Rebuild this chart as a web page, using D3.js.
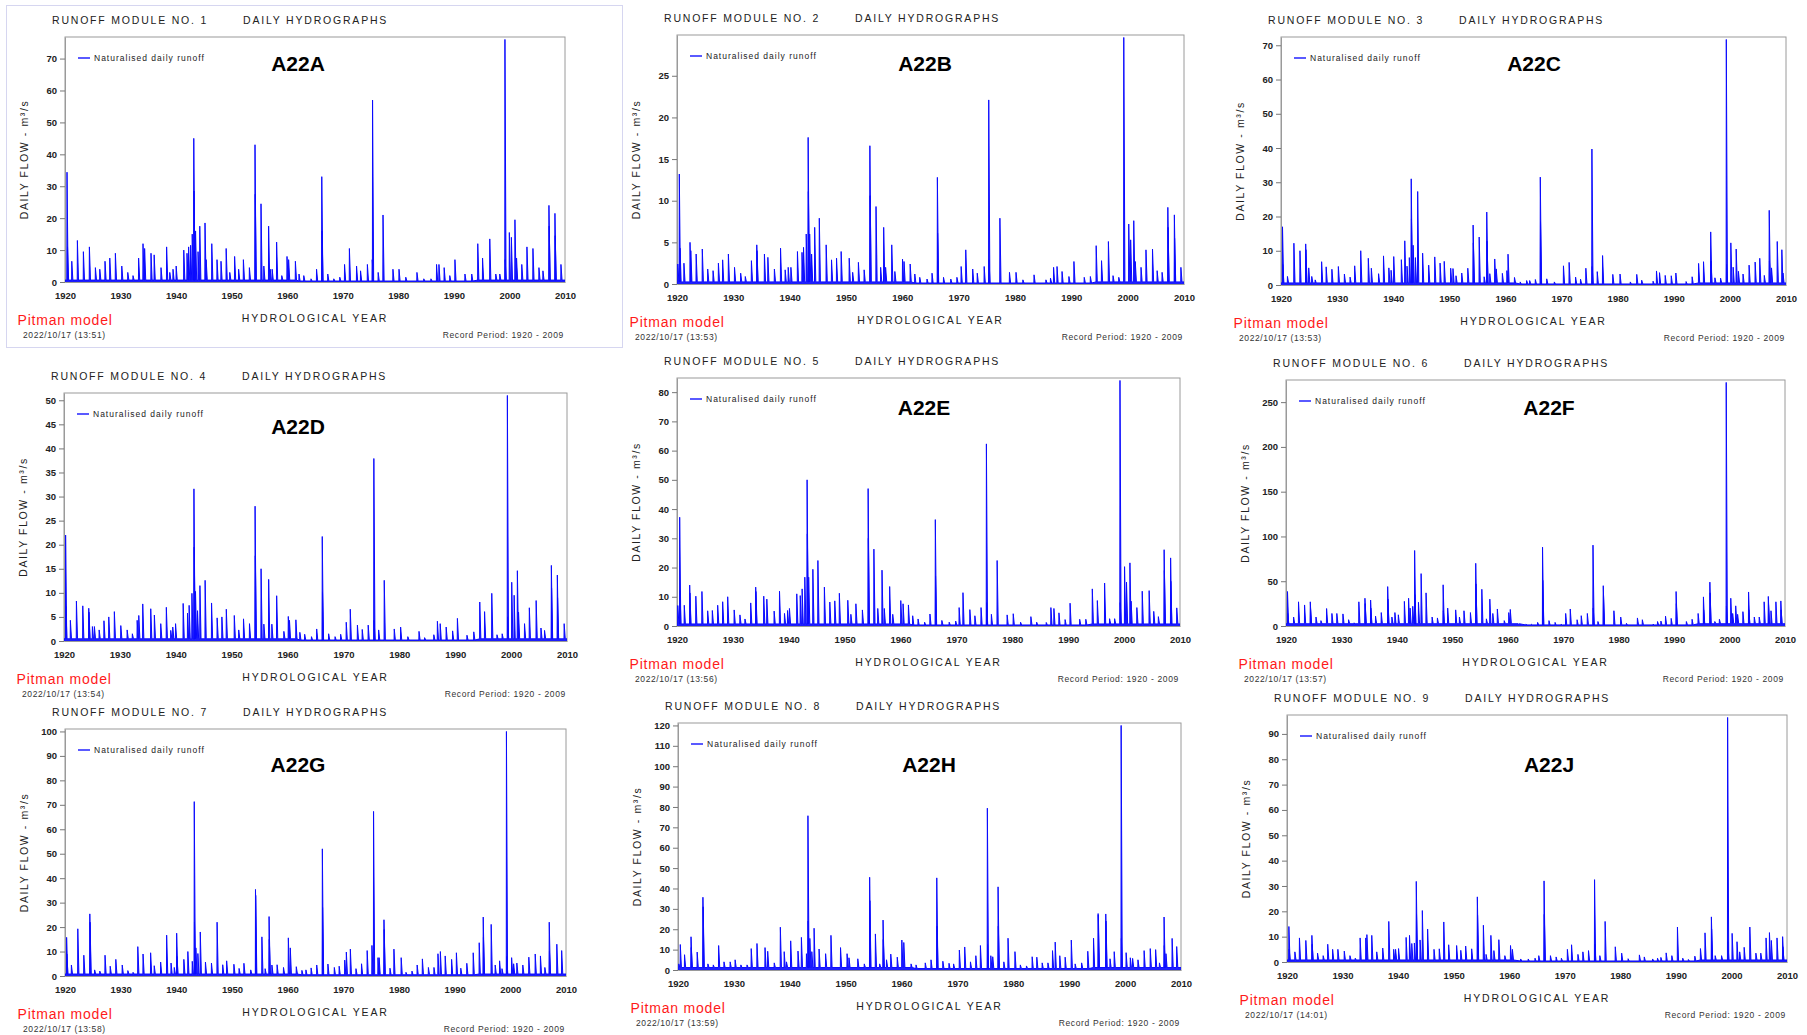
<!DOCTYPE html>
<html>
<head>
<meta charset="utf-8">
<script src="https://cdn.jsdelivr.net/npm/d3@7"></script>
<style>
  body { margin: 0; background: #fff; }
  svg { display: block; font-family: "Liberation Sans", Arial, sans-serif; }
</style>
</head>
<body>
<svg id="chart" width="1807" height="1035"></svg>
<script>
// ---- Data -------------------------------------------------------------
const stations = ["A22A", "A22B", "A22C", "A22D", "A22E", "A22F", "A22G", "A22H", "A22J"];
const moduleNumbers = [1, 2, 3, 4, 5, 6, 7, 8, 9];
const runDate = "2022/10/17";
const runTimes = ["13:51", "13:53", "13:53", "13:54", "13:56", "13:57", "13:58", "13:59", "14:01"];
const recordPeriod = [1920, 2009];
const yearTicks = [1920, 1930, 1940, 1950, 1960, 1970, 1980, 1990, 2000, 2010];

const flowTicksA22A = [0, 10, 20, 30, 40, 50, 60, 70];
const flowTicksA22B = [0, 5, 10, 15, 20, 25];
const flowTicksA22C = [0, 10, 20, 30, 40, 50, 60, 70];
const flowTicksA22D = [0, 5, 10, 15, 20, 25, 30, 35, 40, 45, 50];
const flowTicksA22E = [0, 10, 20, 30, 40, 50, 60, 70, 80];
const flowTicksA22F = [0, 50, 100, 150, 200, 250];
const flowTicksA22G = [0, 10, 20, 30, 40, 50, 60, 70, 80, 90, 100];
const flowTicksA22H = [0, 10, 20, 30, 40, 50, 60, 70, 80, 90, 100, 110, 120];
const flowTicksA22J = [0, 10, 20, 30, 40, 50, 60, 70, 80, 90];

// Flood events: [hydrological year, daily flow m3/s]
const runoffA22A = [[1920.36,34.4],[1920.45,11],[1921.22,6.5],[1922.23,13],[1923.31,9.5],[1924.39,11],[1925.47,4.5],[1926.26,4],[1927.2,6.5],[1928.06,7.5],[1929.07,9],[1930.22,5],[1931.3,3],[1932.24,2],[1933.25,7.5],[1934.04,12],[1934.33,10.5],[1935.48,9],[1936.05,8.5],[1937.28,4.5],[1938.29,11],[1938.86,3],[1939.44,4],[1940.01,5],[1941.38,10],[1941.96,9],[1942.25,11],[1942.61,11.5],[1942.9,15],[1943.18,45],[1943.22,28.5],[1943.5,16],[1943.95,9.5],[1944.26,17.5],[1945.2,18.5],[1945.41,7],[1946.42,12],[1947.36,7],[1948.08,6.5],[1949.01,10.5],[1949.66,3],[1950.53,8],[1951.25,4],[1952.11,7],[1953.19,4.5],[1954.2,43],[1954.24,27.5],[1955.28,24.5],[1955.79,5],[1956.65,17.5],[1956.94,4],[1957.29,4],[1958.09,12.5],[1959.02,2],[1959.96,8],[1960.25,7],[1961.47,6.5],[1962.12,2.5],[1962.98,2],[1964.28,1],[1965.28,4],[1966.22,33],[1966.26,16],[1967.3,2.5],[1968.38,1],[1969.46,1.5],[1970.32,5.5],[1971.19,10.5],[1972.48,5],[1973.2,3.5],[1974.43,5.5],[1975.3,7],[1975.36,57],[1976.37,3],[1977.24,21],[1979.03,4],[1980.12,4],[1981.34,1.5],[1983.35,3],[1984.58,1],[1985.87,1],[1986.88,5.5],[1987.31,5.5],[1988.25,4.5],[1989.26,2],[1990.19,7],[1991.99,2.5],[1993.21,2.5],[1994.3,12],[1995.16,7.5],[1996.46,13.5],[1997.54,2.5],[1998.26,2.5],[1999.19,76],[1999.23,7],[1999.98,15.5],[2000.35,14],[2000.99,19.5],[2001.28,7.5],[2002.22,5.5],[2003.15,11],[2004.23,10.5],[2005.31,4.5],[2006.03,3.5],[2007.11,24],[2007.15,17.5],[2008.19,21.5],[2008.23,14.5],[2009.27,5.5]];
const runoffA22B = [[1920.14,2.4],[1920.41,13.2],[1920.54,4.3],[1921.23,2.5],[1922.31,5],[1922.45,4],[1923.4,3.6],[1924.49,4.2],[1925.45,1.8],[1926.4,1.6],[1927.35,2.5],[1928.1,2.9],[1929.12,3.6],[1930.21,2],[1931.3,1.3],[1932.12,0.9],[1933.21,2.8],[1934.16,4.7],[1934.2,4],[1935.52,3.6],[1936.13,3.2],[1937.29,1.8],[1938.38,4.3],[1939.2,1.7],[1939.74,2],[1940.22,2],[1941.38,3.9],[1942.19,3.8],[1942.46,4.4],[1942.94,6],[1943.28,17.6],[1943.32,11.1],[1943.55,6],[1943.89,3.6],[1944.44,6.8],[1945.26,7.9],[1946.48,4.7],[1947.43,2.9],[1948.32,3.1],[1949.14,3.9],[1950.57,3.1],[1951.18,1.4],[1952.2,2.6],[1953.22,1.7],[1954.24,16.6],[1954.28,10.6],[1955.33,9.3],[1956.15,2],[1956.69,6.8],[1957.03,2],[1958.12,4.7],[1958.67,1.5],[1960.03,3],[1960.3,2.7],[1961.39,2.4],[1962.21,1.2],[1963.09,0.8],[1964.38,0.6],[1965.27,1.3],[1966.22,12.8],[1966.26,6.1],[1967.31,0.8],[1968.6,0.6],[1969.69,0.8],[1970.44,2.1],[1971.26,4.1],[1972.49,1.8],[1973.3,1.3],[1974.53,2.1],[1975.34,22.1],[1975.38,2.9],[1977.32,7.9],[1979.02,1.4],[1980.18,1.4],[1981.4,0.5],[1983.38,1.1],[1985.49,0.5],[1986.3,0.7],[1986.85,2],[1987.46,2.1],[1988.35,1.5],[1989.57,0.9],[1990.46,2.7],[1992.29,0.8],[1993.38,0.9],[1994.41,4.6],[1995.36,2.8],[1996.58,5.1],[1997.4,1],[1998.42,0.8],[1999.31,29.6],[2000.19,7.2],[2000.53,5.3],[2001.08,7.6],[2001.35,2.7],[2002.37,2],[2003.25,4.1],[2004.41,4.2],[2005.23,1.6],[2006.11,1.4],[2007.13,9.2],[2007.17,6.8],[2008.29,8.3],[2008.33,5.5],[2009.45,2]];
const runoffA22C = [[1920.27,17],[1920.31,6],[1921.15,2.5],[1922.3,12.2],[1923.38,10],[1924.4,12],[1924.44,10.3],[1924.94,5],[1925.48,2.5],[1926.09,1.5],[1927.24,6.8],[1928.05,5.3],[1929.07,4.6],[1930.22,5.4],[1931.3,3.2],[1932.31,2.3],[1933.13,5.6],[1934.21,10],[1935.56,7.8],[1936.1,4.9],[1937.39,3.3],[1938.27,8.5],[1939.22,5],[1939.62,4.3],[1940.09,8.3],[1941.45,7.4],[1942.06,12.9],[1942.46,5.5],[1942.87,8],[1943.21,31],[1943.25,19.3],[1943.55,11.6],[1943.95,8],[1944.36,27.3],[1945.24,9.3],[1946.32,5.8],[1947.4,8.2],[1948.35,6.4],[1949.09,6.9],[1950.24,4.9],[1950.65,4.8],[1951.19,2.7],[1952.21,3.5],[1953.29,4.9],[1954.24,17.5],[1954.28,12.3],[1955.32,14],[1956.2,2.4],[1956.67,21.3],[1956.71,12.8],[1957.21,3.3],[1958.09,7.6],[1958.36,4.7],[1959.45,3.4],[1960.26,4.2],[1960.46,9],[1961.61,2.2],[1962.63,0.9],[1963.78,1.3],[1964.32,1.3],[1965.33,1.6],[1966.21,31.5],[1966.25,18.5],[1967.36,1.8],[1968.71,0.9],[1970.34,5.6],[1971.35,6.6],[1972.5,2.3],[1973.38,1.7],[1974.33,4.9],[1975.41,39.7],[1975.45,5.4],[1976.36,3.9],[1977.31,8.6],[1979.13,3.1],[1980.42,3.2],[1982.25,0.9],[1983.4,3.1],[1984.28,1.4],[1986.31,1.1],[1986.92,4.1],[1987.46,3.6],[1988.47,2.8],[1989.55,2.7],[1990.37,3.5],[1992.19,1],[1993.27,2.4],[1994.42,6.3],[1995.3,6.8],[1996.58,15.5],[1996.62,7],[1997.33,2.1],[1998.34,2],[1999.36,71.7],[1999.4,6],[2000.17,12.3],[2000.58,5.2],[2001.12,10.5],[2001.52,4],[2002.34,3.2],[2003.42,5.8],[2004.5,6.7],[2005.32,7.8],[2006.13,2.8],[2007.01,21.8],[2007.05,7],[2007.42,5],[2008.44,12.7],[2009.26,10.3],[2009.46,3.5]];
const runoffA22D = [[1920.29,22],[1920.33,7.2],[1921.14,4.3],[1922.22,8.3],[1923.36,7.3],[1924.43,6.8],[1924.47,6],[1925.08,3],[1925.44,3],[1926.29,2.3],[1927.15,4.2],[1928.01,5],[1929.01,6.1],[1930.16,3.2],[1931.3,2.3],[1932.23,1.5],[1933.09,4.3],[1933.38,5.3],[1934.09,7.7],[1935.52,6.7],[1936.17,5.4],[1937.31,3.6],[1938.31,7],[1939.1,2.2],[1939.46,2.9],[1939.96,3.6],[1941.32,7.8],[1942.1,5.8],[1942.39,7.4],[1942.89,9.9],[1943.25,31.6],[1943.29,19.5],[1943.53,10.3],[1943.89,6.3],[1944.32,11.5],[1945.25,12.6],[1946.4,7.9],[1947.4,4.8],[1948.25,5],[1949.04,6.6],[1950.47,5.3],[1951.26,2.3],[1952.12,4.6],[1953.19,3.6],[1954.19,28],[1954.23,17.7],[1955.26,15],[1955.76,3.5],[1956.62,12.8],[1957.19,3.5],[1958.05,9.4],[1959.34,2],[1960.13,5.1],[1960.34,4.3],[1961.49,4.4],[1962.2,1.8],[1963.06,1.4],[1964.28,0.9],[1965.21,2.5],[1966.21,21.7],[1966.25,10.2],[1967.35,1.5],[1968.5,0.9],[1969.5,1.4],[1970.5,3.9],[1971.22,6.6],[1972.5,3.3],[1973.36,2.4],[1974.43,3.3],[1975.44,37.9],[1975.48,4.3],[1976.3,2.3],[1977.3,12.6],[1979.09,2.5],[1980.23,2.9],[1981.52,0.9],[1983.52,2],[1984.52,0.7],[1986.17,1.3],[1986.81,4.1],[1987.31,3.6],[1988.38,2.9],[1989.53,2.1],[1990.39,4.7],[1992.1,1.2],[1993.32,1.9],[1994.39,8.1],[1995.25,6.1],[1996.54,9.9],[1997.47,1.3],[1998.4,1.5],[1999.33,51],[1999.37,5],[2000.11,12.2],[2000.54,9.5],[2001.12,14.6],[2001.33,6],[2002.4,3.6],[2003.26,6.9],[2004.48,8.4],[2005.34,2.7],[2005.98,2.2],[2007.2,15.7],[2007.24,11],[2008.27,13.7],[2008.31,9],[2009.49,3.6]];
const runoffA22E = [[1920.14,7],[1920.48,37.2],[1920.52,12],[1921.3,7.1],[1922.27,14],[1922.31,11.3],[1923.37,10.2],[1924.46,11.8],[1925.49,5.2],[1926.32,5.3],[1927.28,7.1],[1928.17,8.3],[1929.07,10],[1930.23,5.5],[1931.26,3.8],[1932.16,2.4],[1933.19,7.9],[1934.08,13.3],[1934.12,11.8],[1935.52,10.2],[1936.07,9.2],[1937.38,5.1],[1938.34,11.9],[1939.23,4.3],[1939.78,5.3],[1940.12,6],[1941.43,11],[1942.05,10.4],[1942.39,12.7],[1942.87,16.7],[1943.28,50],[1943.32,31.5],[1943.56,16.7],[1944.31,19.4],[1945.21,22.4],[1946.37,13.3],[1947.34,8.2],[1948.23,8.6],[1949.05,11.2],[1950.56,8.8],[1951.11,4],[1952.01,7.6],[1953.17,5.5],[1954.2,47],[1954.24,30],[1955.23,26.3],[1955.92,6],[1956.68,19.1],[1957.09,6],[1958.05,13.5],[1958.6,4],[1960.04,8.7],[1960.45,7.6],[1961.41,7.2],[1962.17,3.5],[1963.13,2.4],[1964.3,1.3],[1965.26,4.1],[1966.22,36.4],[1966.26,17.1],[1967.39,1.9],[1968.7,1.3],[1969.86,1.7],[1970.48,6.3],[1971.17,11.4],[1972.4,5.6],[1973.3,3.5],[1974.4,6.3],[1975.36,62.3],[1975.4,8],[1976.25,4],[1977.28,22.4],[1979.07,3.8],[1980.16,4.2],[1981.47,1.3],[1983.32,3.2],[1984.35,1.3],[1986.07,1.2],[1986.9,6.3],[1987.44,6],[1988.34,4.5],[1989.44,2.2],[1990.33,7.8],[1992.05,2.3],[1993.15,2.3],[1994.31,12.7],[1995.21,8.7],[1996.51,14.7],[1997.4,2.5],[1998.3,2.5],[1999.26,84],[1999.3,8],[2000.08,20.3],[2000.43,15],[2001.04,21.6],[2001.25,8.5],[2002.28,6.3],[2003.24,11.9],[2004.48,12.1],[2005.3,5],[2006.13,3.2],[2007.16,26.1],[2007.2,19],[2008.32,23.3],[2008.36,15.3],[2009.42,6.2]];
const runoffA22F = [[1920.27,38.5],[1920.31,14],[1921.37,10],[1922.26,27],[1923.35,23.5],[1924.38,27],[1924.42,20],[1925.41,10],[1926.3,6],[1927.32,19.5],[1928.28,14],[1929.17,14],[1930.27,13.5],[1931.29,7],[1932.25,3.5],[1933.14,27],[1934.24,31],[1934.28,25],[1935.26,29],[1935.3,20],[1936.15,11],[1937.18,15],[1938.34,44],[1938.38,30],[1939.1,10],[1939.64,15],[1940.26,12.5],[1941.35,27.5],[1942.11,31],[1942.38,20],[1942.86,22],[1943.2,84.3],[1943.24,35],[1943.89,26.5],[1944.37,58.5],[1945.26,37],[1946.35,10],[1947.31,9],[1948.34,46],[1948.38,17],[1949.16,20],[1950.6,18],[1951.28,10],[1952.1,17],[1953.26,15],[1954.22,70],[1954.26,47],[1955.32,41],[1956.14,8],[1956.76,30],[1957.3,14],[1958.12,19],[1959.36,6],[1960.18,15],[1960.45,18.5],[1961.89,2],[1963.26,2],[1964.28,2],[1965.38,4],[1966.27,88],[1966.31,51],[1967.43,6],[1968.53,4],[1969.62,2],[1970.44,14],[1971.27,19],[1972.5,7],[1973.25,11.5],[1974.35,14],[1975.37,90.3],[1975.41,20],[1976.26,5],[1977.22,45],[1977.26,36],[1979.14,17],[1980.37,10],[1981.4,3],[1983.38,9],[1984.27,7],[1986.19,2],[1987.01,5],[1987.62,5.5],[1988.45,11],[1989.47,8.5],[1990.36,38.5],[1990.4,25],[1992.21,5],[1993.24,7.5],[1994.33,14],[1995.29,32.5],[1995.33,18],[1996.45,49],[1996.49,37],[1997.34,5],[1998.17,7.5],[1999.4,272],[1999.44,22],[2000.22,31],[2000.56,14],[2001.11,22.5],[2001.45,13],[2002.41,16],[2003.43,38],[2003.47,18],[2004.46,10],[2005.35,10],[2006.24,27],[2006.99,33],[2007.03,24],[2007.47,17],[2008.36,27],[2009.25,28],[2009.29,18]];
const runoffA22G = [[1920.29,15.8],[1920.33,9],[1921.15,4.5],[1922.3,19.3],[1923.38,8.5],[1924.46,25.4],[1924.5,22],[1925.32,2.5],[1926.25,2],[1927.19,8.5],[1928.12,4],[1929.13,6.8],[1930.28,4.5],[1931.29,2.2],[1932.22,1.5],[1933.08,12],[1934.02,9],[1935.38,9.5],[1936.03,4.2],[1937.18,5.7],[1938.26,16.7],[1939.05,5.3],[1939.63,3.5],[1940.06,17.5],[1940.1,8],[1941.35,6.8],[1942.07,10],[1942.86,6],[1943.22,71.3],[1943.26,22],[1943.51,11.5],[1943.87,9.2],[1944.3,18],[1945.23,5.7],[1946.31,5.3],[1947.32,22],[1948.33,4.6],[1949.04,6.2],[1950.34,4.8],[1951.27,3.1],[1952.14,5.2],[1953.36,2.5],[1954.22,35.4],[1954.26,33],[1955.37,16],[1955.95,3],[1956.66,24.3],[1956.7,15],[1957.17,4.5],[1958.1,4.6],[1959.25,3.5],[1960.12,15.6],[1960.47,11.5],[1961.55,3.8],[1962.56,2.3],[1963.28,2.5],[1964.21,3.3],[1965.22,4.5],[1966.23,52],[1966.27,28],[1967.23,4.9],[1968.38,3.5],[1969.25,4],[1970.25,6.5],[1970.54,9.8],[1971.26,11],[1972.27,3],[1973.27,5],[1974.28,10.4],[1975.14,12.5],[1975.43,67.3],[1976.22,7.5],[1976.43,7.5],[1977.3,23],[1977.34,19],[1978.38,3.2],[1979.09,11],[1980.39,7.5],[1981.25,1.5],[1982.33,2],[1983.26,4.5],[1984.2,7],[1985.28,3.5],[1986.28,3.5],[1987,9.1],[1987.43,10],[1988.3,8.2],[1989.45,6.8],[1990.31,9.5],[1991.1,3.2],[1992.18,5.2],[1993.33,9.5],[1994.41,13.6],[1995.13,24.1],[1995.17,15.8],[1996.56,21.1],[1997.28,4.5],[1998.07,6.2],[1998.5,3],[1999.3,100],[1999.34,8],[2000.23,7.5],[2000.59,5],[2001.17,5.3],[2002.24,4.5],[2003.32,7.7],[2004.47,9],[2005.41,8.2],[2006.2,3.5],[2006.99,22],[2007.03,10],[2008.35,13],[2009.22,10.4]];
const runoffA22H = [[1920.14,3],[1920.41,12.5],[1921.17,7.5],[1922.33,16.3],[1922.37,11],[1923.43,8.8],[1924.46,35.7],[1924.5,31],[1925.35,3],[1926.31,2.5],[1927.27,12],[1928.23,4],[1929.33,4],[1930.22,5],[1931.25,2.5],[1932.35,2.5],[1933.1,10.5],[1934.13,13],[1935.57,11],[1936.05,9.2],[1937.22,3.5],[1938.31,21],[1939,9],[1939.41,4],[1940.16,14.3],[1941.47,9.3],[1942.08,16],[1942.98,8],[1943.25,75.7],[1943.29,24],[1943.59,15.5],[1943.94,9],[1944.35,20.5],[1945.24,10.3],[1946.41,8],[1947.37,17],[1949.08,11],[1950.25,8],[1950.59,6],[1952.17,5.5],[1953.33,3],[1954.29,45.5],[1954.33,34],[1955.32,17.7],[1956.08,3],[1956.69,24.5],[1956.73,15],[1957.31,5],[1958.07,7.8],[1959.23,6.3],[1960.05,14.7],[1960.4,13.5],[1961.7,3],[1962.59,2.5],[1964.24,3.5],[1965.27,5],[1966.3,45.2],[1966.34,21.5],[1967.39,4.3],[1968.49,3.3],[1969.31,3],[1970.34,9.8],[1971.3,11.3],[1972.33,4],[1973.29,7],[1974.11,12],[1975.35,79.4],[1975.39,12.5],[1975.97,7],[1976.31,6.5],[1977.27,40.8],[1977.31,21.5],[1978.3,4],[1979.05,15.6],[1980.29,9],[1981.25,2.5],[1982.35,2],[1983.37,6.5],[1984.2,6.3],[1985.16,3.5],[1986.19,3.5],[1987.01,9.5],[1987.49,13.7],[1988.31,7],[1989.27,6.3],[1990.37,14.7],[1991.06,3],[1992.22,3.5],[1993.32,9.2],[1994.35,15.6],[1995.17,27.7],[1995.21,27],[1996.54,27.5],[1996.58,24],[1997.3,5.5],[1998.05,9],[1999.29,120],[1999.33,15.5],[2000.18,8.5],[2000.93,6],[2001.34,5.7],[2002.3,5],[2003.4,9.5],[2004.5,10.5],[2005.46,10],[2006.14,3.5],[2006.97,26],[2007.01,12],[2007.31,8],[2008.41,15.5],[2009.23,11.5]];
const runoffA22J = [[1920.34,14],[1920.38,5],[1921.42,4],[1922.24,9.5],[1923.39,8.5],[1924.48,10.5],[1924.52,7],[1925.5,3.5],[1926.51,2.5],[1927.33,7],[1928.21,5],[1929.16,5],[1930.31,4.3],[1931.33,2.5],[1932.28,1.5],[1933.16,9.5],[1934.18,9.5],[1934.38,10.8],[1935.26,10.5],[1936.15,4],[1937.23,5.5],[1938.32,16],[1939.2,5],[1939.54,5],[1940.08,5.3],[1941.44,9.7],[1942.05,10.5],[1942.46,7.3],[1942.93,7.5],[1943.27,31.8],[1943.31,19],[1943.95,8.7],[1944.36,20.3],[1945.31,13],[1946.46,5],[1947.41,5.2],[1948.22,15.8],[1949.1,6.8],[1950.53,6.5],[1951.28,4.6],[1952.16,6.3],[1953.24,5.2],[1954.26,25.7],[1954.3,18.5],[1955.35,14.5],[1955.83,3],[1956.7,10.5],[1957.24,4.5],[1958.13,8.8],[1959.21,2.5],[1960.23,6.5],[1960.57,5],[1962.06,1.2],[1963.42,1.2],[1964.64,1.5],[1965.32,2.5],[1966.27,32],[1966.31,18.8],[1967.42,2.5],[1968.44,2],[1969.39,1.5],[1970.47,5],[1971.22,6.8],[1972.37,3],[1973.26,4],[1974.27,4.5],[1975.36,32.5],[1975.4,7],[1976.31,2.5],[1977.26,16],[1979.09,6],[1980.24,3.5],[1981.4,1.3],[1983.43,2.8],[1984.31,2],[1985.81,1.2],[1986.69,1.5],[1987.3,1.8],[1988.25,3.6],[1989.27,2.5],[1990.28,13.8],[1991.23,1.5],[1992.25,1],[1993.41,2.3],[1994.42,5.3],[1995.24,11.5],[1996.39,17.8],[1996.43,13],[1997.07,2.5],[1998.22,2.5],[1999.31,96.5],[1999.35,8],[2000.12,11.3],[2001,8],[2001.48,4],[2002.29,5.8],[2003.31,13.8],[2004.4,3.5],[2005.28,3.5],[2006.23,9.5],[2006.84,11.6],[2007.18,8.5],[2008.2,9.5],[2009.21,10],[2009.25,6]];

// Low-flow level between events: [from year, daily flow m3/s]
const lowFlowA22A = [[1920, 0.6], [1962, 0.3], [1994, 0.6]];
const lowFlowA22B = [[1920, 0.25], [1962, 0.12], [1994, 0.25]];
const lowFlowA22C = [[1920, 0.6], [1962, 0.3], [1994, 0.6]];
const lowFlowA22D = [[1920, 0.45], [1962, 0.2], [1994, 0.45]];
const lowFlowA22E = [[1920, 0.7], [1962, 0.35], [1994, 0.7]];
const lowFlowA22F = [[1920, 2.5], [1962, 1.2], [1994, 2.5]];
const lowFlowA22G = [[1920, 0.8], [1962, 0.5], [1994, 0.8]];
const lowFlowA22H = [[1920, 1.2], [1962, 0.7], [1994, 1.2]];
const lowFlowA22J = [[1920, 0.8], [1962, 0.4], [1994, 0.8]];

// ---- Layout (plot rectangles and station-label anchors) ----------------
const panels = [
  { runoff: runoffA22A, low: lowFlowA22A, ticks: flowTicksA22A, box: [65, 37, 565, 282], label: [298, 63] },
  { runoff: runoffA22B, low: lowFlowA22B, ticks: flowTicksA22B, box: [677, 35, 1184, 284], label: [925, 63] },
  { runoff: runoffA22C, low: lowFlowA22C, ticks: flowTicksA22C, box: [1281, 37, 1786, 285], label: [1534, 63] },
  { runoff: runoffA22D, low: lowFlowA22D, ticks: flowTicksA22D, box: [64, 393, 567, 641], label: [298, 426] },
  { runoff: runoffA22E, low: lowFlowA22E, ticks: flowTicksA22E, box: [677, 378, 1180, 626], label: [924, 407] },
  { runoff: runoffA22F, low: lowFlowA22F, ticks: flowTicksA22F, box: [1286, 380, 1785, 626], label: [1549, 407] },
  { runoff: runoffA22G, low: lowFlowA22G, ticks: flowTicksA22G, box: [65, 729, 566, 976], label: [298, 764] },
  { runoff: runoffA22H, low: lowFlowA22H, ticks: flowTicksA22H, box: [678, 723, 1181, 970], label: [929, 764] },
  { runoff: runoffA22J, low: lowFlowA22J, ticks: flowTicksA22J, box: [1287, 715, 1787, 962], label: [1549, 764] }
];

const svg = d3.select("#chart");
const FLOW_BLUE = "#0a0aff";
const FRAME_GREY = "#9a9a9a";
// spike glyph: rise and recession widths in years
const RISE = 0.03, RECESSION = 0.2;

// light outline around the first module sheet
svg.append("rect")
  .attr("x", 6.5).attr("y", 5.5).attr("width", 616).attr("height", 342)
  .attr("fill", "none").attr("stroke", "#d6d6f0").attr("stroke-width", 1);

function lowLevel(steps, t) {
  let v = steps[0][1];
  for (const s of steps) if (s[0] <= t) v = s[1];
  return v;
}

panels.forEach((p, i) => {
  const [L, T, R, B] = p.box;
  const g = svg.append("g");
  const events = p.runoff.slice().sort((a, b) => a[0] - b[0]);

  const x = d3.scaleLinear().domain([1920, 2010]).range([L, R]);
  const y = d3.scaleLinear().domain([0, d3.max(events, d => d[1]) * 1.01]).range([B, T]);

  // header
  g.append("text")
    .attr("x", L - 13).attr("y", T - 16.7).attr("dy", "0.36em")
    .attr("font-size", 10.5).attr("letter-spacing", 1.8).attr("fill", "#222")
    .text(`RUNOFF MODULE NO. ${moduleNumbers[i]}`);
  g.append("text")
    .attr("x", L + 178).attr("y", T - 16.7).attr("dy", "0.36em")
    .attr("font-size", 10.5).attr("letter-spacing", 1.8).attr("fill", "#222")
    .text("DAILY HYDROGRAPHS");

  // plot frame
  g.append("rect")
    .attr("x", L).attr("y", T).attr("width", R - L).attr("height", B - T)
    .attr("fill", "none").attr("stroke", FRAME_GREY).attr("stroke-width", 1);

  // axes
  const yAxis = g.append("g")
    .attr("transform", `translate(${L},0)`)
    .call(d3.axisLeft(y).tickValues(p.ticks).tickSize(5).tickSizeOuter(0).tickPadding(3));
  const xAxis = g.append("g")
    .attr("transform", `translate(0,${B})`)
    .call(d3.axisBottom(x).tickValues(yearTicks).tickSize(0).tickSizeOuter(0).tickPadding(10)
      .tickFormat(d3.format("d")));
  [yAxis, xAxis].forEach(a => {
    a.select(".domain").attr("stroke", FRAME_GREY);
    a.selectAll(".tick line").attr("stroke", "#777");
    a.selectAll(".tick text")
      .attr("font-family", "\"Liberation Sans\", Arial, sans-serif")
      .attr("font-size", 9.5).attr("font-weight", "bold").attr("fill", "#222");
  });

  // daily runoff trace: each event is a sharp rise and a short recession
  const clipId = `clip${i}`;
  svg.append("clipPath").attr("id", clipId)
    .append("rect").attr("x", L).attr("y", T - 1).attr("width", R - L).attr("height", B - T + 1);
  const pts = [[1920, lowLevel(p.low, 1920)]];
  events.forEach(([t, v]) => {
    const base = lowLevel(p.low, t);
    pts.push([t - RISE, base], [t, v], [t + RECESSION, base]);
  });
  pts.push([2010, lowLevel(p.low, 2010)]);
  const area = d3.area().x(d => x(d[0])).y0(y(0)).y1(d => y(d[1]));
  const line = d3.line().x(d => x(d[0])).y(d => y(d[1]));
  g.append("path")
    .attr("clip-path", `url(#${clipId})`)
    .attr("d", area(pts))
    .attr("fill", FLOW_BLUE).attr("fill-opacity", 0.9);
  g.append("path")
    .attr("clip-path", `url(#${clipId})`)
    .attr("d", line(pts))
    .attr("fill", "none").attr("stroke", FLOW_BLUE).attr("stroke-width", 1);

  // legend
  g.append("line")
    .attr("x1", L + 13).attr("x2", L + 25).attr("y1", T + 21).attr("y2", T + 21)
    .attr("stroke", "#5a5aff").attr("stroke-width", 2);
  g.append("text")
    .attr("x", L + 29).attr("y", T + 21).attr("dy", "0.35em")
    .attr("font-size", 8.5).attr("letter-spacing", 1).attr("fill", "#222")
    .text("Naturalised daily runoff");

  // station name
  g.append("text")
    .attr("x", p.label[0]).attr("y", p.label[1]).attr("dy", "0.36em")
    .attr("text-anchor", "middle").attr("font-size", 21).attr("font-weight", "bold")
    .attr("fill", "#000")
    .text(stations[i]);

  // axis titles
  g.append("text")
    .attr("transform", `translate(${L - 41},${(T + B) / 2}) rotate(-90)`)
    .attr("text-anchor", "middle").attr("dy", "0.36em")
    .attr("font-size", 10.5).attr("letter-spacing", 1.6).attr("fill", "#222")
    .text("DAILY FLOW - m\u00B3/s");
  g.append("text")
    .attr("x", (L + R) / 2).attr("y", B + 36).attr("dy", "0.36em")
    .attr("text-anchor", "middle")
    .attr("font-size", 10.5).attr("letter-spacing", 1.9).attr("fill", "#222")
    .text("HYDROLOGICAL YEAR");

  // footer
  g.append("text")
    .attr("x", L - 47.5).attr("y", B + 37.5).attr("dy", "0.36em")
    .attr("font-size", 14).attr("letter-spacing", 0.8).attr("fill", "#ff1a1a")
    .text("Pitman model");
  g.append("text")
    .attr("x", L - 42).attr("y", B + 52.5).attr("dy", "0.36em")
    .attr("font-size", 8.5).attr("letter-spacing", 0.6).attr("fill", "#333")
    .text(`${runDate} (${runTimes[i]})`);
  g.append("text")
    .attr("x", R - 1).attr("y", B + 52.5).attr("dy", "0.36em")
    .attr("text-anchor", "end")
    .attr("font-size", 8.5).attr("letter-spacing", 0.65).attr("fill", "#333")
    .text(`Record Period: ${recordPeriod[0]} - ${recordPeriod[1]}`);
});
</script>
</body>
</html>
